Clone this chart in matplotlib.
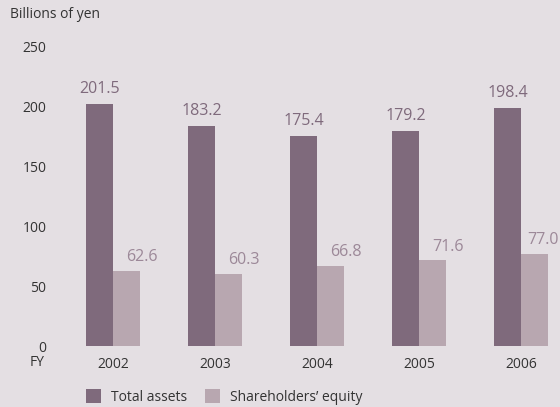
import matplotlib
matplotlib.use("Agg")
import matplotlib.pyplot as plt
import numpy as np

years = ["2002", "2003", "2004", "2005", "2006"]
total_assets = [201.5, 183.2, 175.4, 179.2, 198.4]
equity = [62.6, 60.3, 66.8, 71.6, 77.0]
yticks = [0, 50, 100, 150, 200, 250]

bg = "#E4DFE3"
dark = "#7F6A7C"
light = "#B8A7B0"
dark_lbl = "#7F6A7C"
light_lbl = "#9C8898"
txt = "#333333"

plt.rcParams['font.family'] = ['Open Sans', 'DejaVu Sans']

fig = plt.figure(figsize=(5.6, 4.07), dpi=100, facecolor=bg)
W, H = 560, 407
ax = fig.add_axes([50 / W, (H - 346) / H, 510 / W, 300 / H])
ax.set_facecolor(bg)

x = np.arange(len(years))
bw = 0.26
b1 = ax.bar(x - bw / 2, total_assets, bw, color=dark, label="Total assets")
b2 = ax.bar(x + bw / 2, equity, bw, color=light, label="Shareholders\u2019 equity")

for xi, v in zip(x, total_assets):
    ax.annotate(f"{v:.1f}", (xi - bw / 2, v), xytext=(0, 5), textcoords="offset points",
                ha="center", va="bottom", color=dark_lbl, fontsize=11.5)
n = len(equity)
for i, (xi, v) in enumerate(zip(x, equity)):
    dx = 11 if i < n - 1 else 6.5
    ax.annotate(f"{v:.1f}", (xi + bw / 2, v), xytext=(dx, 4), textcoords="offset points",
                ha="center", va="bottom", color=light_lbl, fontsize=11.5)

ax.set_xlim((50 - 113) / 102, (560 - 113) / 102)
ax.set_ylim(0, 250)
ax.set_yticks(yticks)
ax.set_yticklabels([str(t) for t in yticks], fontsize=10, color=txt)
ax.set_xticks(x)
ax.set_xticklabels(years, fontsize=10, color=txt)
ax.tick_params(axis="both", length=0)
ax.tick_params(axis="y", pad=2.5)
ax.tick_params(axis="x", pad=8)
for s in ax.spines.values():
    s.set_visible(False)

fig.text(37 / W, 1 - 363 / H, "FY", ha="center", va="center", fontsize=10, color=txt)
fig.text(10 / W, 1 - 15 / H, "Billions of yen", ha="left", va="center", fontsize=10, color=txt)

fig.legend(handles=[b1, b2], loc="center left", bbox_to_anchor=(79 / W, 1 - 397 / H),
           ncol=2, frameon=False, fontsize=10, handlelength=1.1, handleheight=1.1,
           columnspacing=1.3, handletextpad=0.7, labelcolor=txt, borderpad=0)

fig.savefig("out.png", dpi=100, facecolor=bg)
